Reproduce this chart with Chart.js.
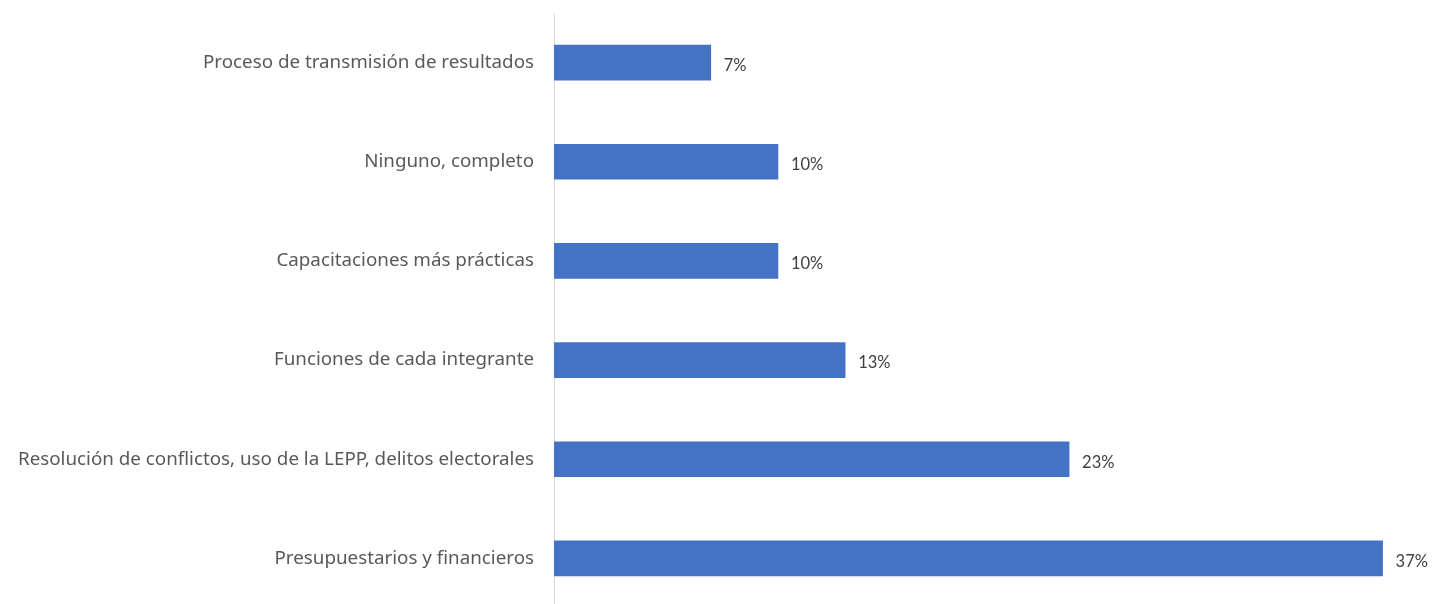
<!DOCTYPE html>
<html>
<head>
<meta charset="utf-8">
<script src="https://cdn.jsdelivr.net/npm/chart.js@4.4.1/dist/chart.umd.min.js"></script>
<style>
    html, body { margin: 0; padding: 0; background: #ffffff; overflow: hidden; }
</style>
</head>
<body>
<canvas id="grafico" width="1445" height="608"></canvas>
<script>
const categorias = [
    "Proceso de transmisión de resultados",
    "Ninguno, completo",
    "Capacitaciones más prácticas",
    "Funciones de cada integrante",
    "Resolución de conflictos, uso de la LEPP, delitos electorales",
    "Presupuestarios y financieros"
];
const valores = [7, 10, 10, 13, 23, 37];

// etiquetas de valor al final de cada barra
const etiquetasValor = {
    id: 'etiquetasValor',
    afterDatasetsDraw(chart) {
        const ctx = chart.ctx;
        const meta = chart.getDatasetMeta(0);
        ctx.save();
        ctx.font = '16.5px Lato';
        ctx.fillStyle = '#404040';
        ctx.textAlign = 'left';
        ctx.textBaseline = 'middle';
        meta.data.forEach((bar, i) => {
            ctx.fillText(valores[i] + '%', bar.x + 13, bar.y + 3);
        });
        ctx.restore();
    }
};

const ctx = document.getElementById('grafico').getContext('2d');
new Chart(ctx, {
    type: 'bar',
    data: {
        labels: categorias,
        datasets: [{
            data: valores,
            backgroundColor: '#4472c4',
            borderWidth: 0,
            barThickness: 35
        }]
    },
    options: {
        indexAxis: 'y',
        responsive: false,
        animation: false,
        layout: { padding: { top: 13, right: 40, bottom: 0, left: 0 } },
        plugins: {
            legend: { display: false },
            tooltip: { enabled: false }
        },
        scales: {
            x: {
                display: false,
                min: 0,
                max: 38
            },
            y: {
                afterFit: (scale) => {
                    scale.width = 554;
                    scale.paddingTop = 0;
                    scale.paddingBottom = 0;
                },
                grid: { display: false, drawTicks: false },
                border: { display: true, color: '#d9d9d9', width: 1 },
                ticks: {
                    padding: 20,
                    color: '#595959',
                    font: { family: 'Noto Sans', size: 18.8 }
                }
            }
        }
    },
    plugins: [etiquetasValor]
});
</script>
</body>
</html>
